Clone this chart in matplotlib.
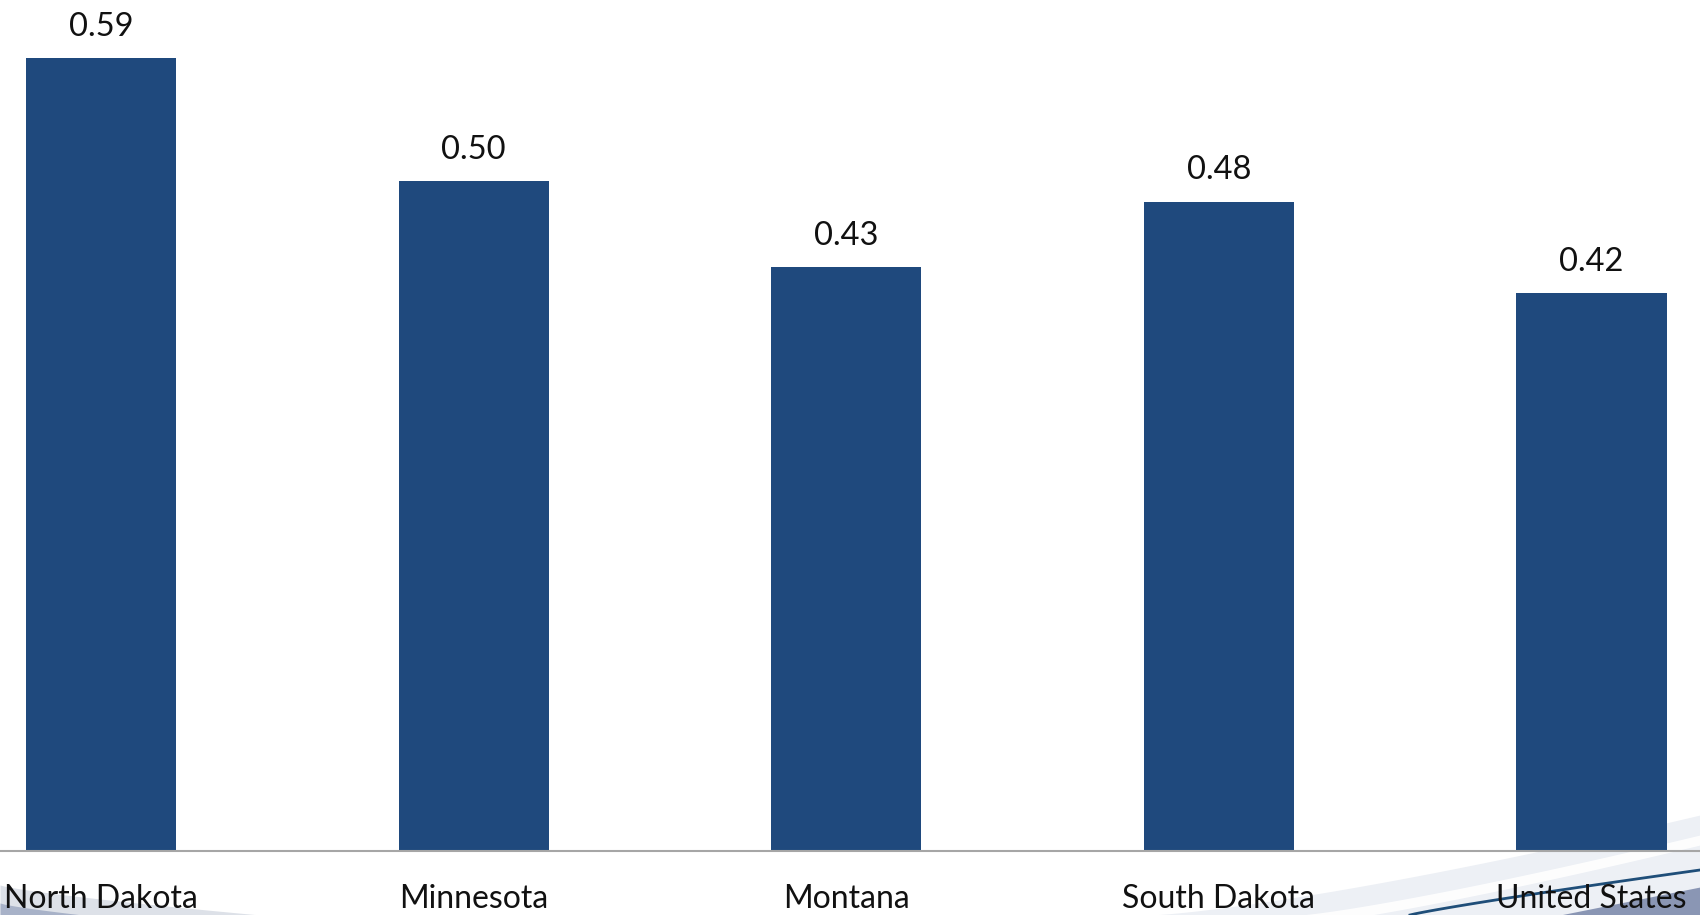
import numpy as np
import matplotlib
matplotlib.use("Agg")
import matplotlib.pyplot as plt

# data
states = ["North Dakota", "Minnesota", "Montana", "South Dakota", "United States"]
values = [0.59, 0.498, 0.434, 0.483, 0.415]
labels = ["0.59", "0.50", "0.43", "0.48", "0.42"]

plt.rcParams["font.family"] = ["Lato", "DejaVu Sans"]

W, H = 1700, 915
fig = plt.figure(figsize=(W / 100, H / 100), dpi=100)

# background swoosh decoration (pixel coords)
bg = fig.add_axes([0, 0, 1, 1], zorder=0)
bg.set_xlim(0, W)
bg.set_ylim(H, 0)
bg.axis("off")

t = np.linspace(0, 1, 60)
# light band bottom right
xu = 1150 + 550 * t
yu = 915 - 100 * t ** 1.3
bg.fill_between(xu, yu, 915, color="#edf0f5", lw=0)
xw = 1300 + 400 * t
yw = 915 - 80 * t ** 1.2
bg.fill_between(xw, yw, yw + 10, color="white", lw=0, alpha=0.9)
# darker fill under the blue line
xd = 1560 + 140 * t
yd = 915 - 28 * t
bg.fill_between(xd, yd, 915, color="#8a96b4", lw=0)
# thin dark blue line
xl = 1410 + 290 * t
yl = 915 - 45 * t ** 0.9
bg.plot(xl, yl, color="#1f4e79", lw=2)
# faint swoosh bottom left
xs = 0 + 260 * t
ys = 885 + 30 * t ** 0.8
bg.fill_between(xs, ys, 915, color="#dde1e8", lw=0)
bg.fill_between(xs[:25], ys[:25] + 18, 915, color="#a8b2c8", lw=0)

# chart
ax = fig.add_axes([0, 64.5 / H, 1, 1 - 64.5 / H], zorder=1)
ax.patch.set_alpha(0)
x = np.arange(len(states))
bars = ax.bar(x, values, width=0.403, color="#1f497d", zorder=2)
for b, lab in zip(bars, labels):
    ax.text(b.get_x() + b.get_width() / 2, b.get_height() + 0.0165, lab,
            ha="center", va="baseline", fontsize=23.5, color="#111111")

ax.set_xlim(-0.271, 4.291)
ax.set_ylim(0, 0.633)
ax.set_xticks(x)
ax.set_xticklabels(states, fontsize=23, color="#111111")
ax.tick_params(axis="x", length=0, pad=24)
ax.set_yticks([])
for s in ["top", "right", "left"]:
    ax.spines[s].set_visible(False)
ax.spines["bottom"].set_color("#a6a6a6")
ax.spines["bottom"].set_linewidth(1.5)

fig.savefig("out.png", dpi=100)
